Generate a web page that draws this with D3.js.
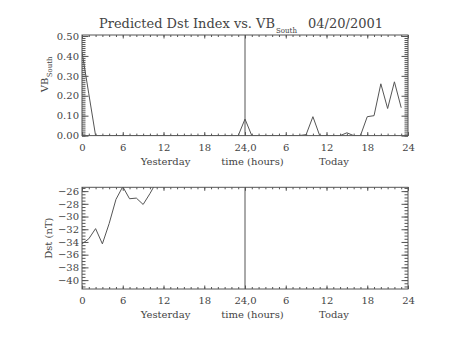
<!DOCTYPE html>
<html>
<head>
<meta charset="utf-8">
<script src="https://cdn.jsdelivr.net/npm/d3@7"></script>
<style>
  html, body { margin: 0; padding: 0; background: #fff; }
  svg { display: block; }
  text { font-family: "DejaVu Serif", "Liberation Serif", serif; fill: #444; }
</style>
</head>
<body>
<svg id="chart" width="454" height="341"></svg>
<script>
// ---- data ----
const vbSouth = [
  0.42, 0.21, 0, 0, 0, 0, 0, 0, 0, 0, 0, 0,
  0, 0, 0, 0, 0, 0, 0, 0, 0, 0, 0, 0,
  0.083, 0, 0, 0, 0, 0, 0, 0, 0, 0.005, 0.095, 0,
  0, 0, 0, 0.014, 0, 0, 0.095, 0.10, 0.26, 0.136, 0.27, 0.14
];
const dstHours = [0, 1, 2, 3, 4, 5, 6, 7, 8, 9, 10, 11];
const dstValues = [-34.3, -33.5, -31.9, -34.3, -31.1, -27.3, -25.3, -27.2, -27.1, -28.1, -26.4, -24.5];
const xTickValues = [0, 6, 12, 18, 24, 30, 36, 42, 48];
const xTickLabels = ["0", "6", "12", "18", "24,0", "6", "12", "18", "24"];
const vbTickValues = [0, 0.1, 0.2, 0.3, 0.4, 0.5];
const vbTickLabels = ["0.00", "0.10", "0.20", "0.30", "0.40", "0.50"];
const dstTickValues = [-40, -38, -36, -34, -32, -30, -28, -26];
const dstTickLabels = ["\u221240", "\u221238", "\u221236", "\u221234", "\u221232", "\u221230", "\u221228", "\u221226"];
const dayLabels = ["Yesterday", "time (hours)", "Today"];
const dayLabelHours = [12.3, 25.1, 37.1];
const titleMain = "Predicted Dst Index vs. VB";
const titleSub = "South";
const titleDate = "04/20/2001";

// ---- layout ----
const svg = d3.select("#chart");
const W = 454, H = 341;
svg.append("rect").attr("width", W).attr("height", H).attr("fill", "#fff");
const lineColor = "#555";
const textColor = "#444";
const left = 82, right = 408;
const fs = 10;

const x = d3.scaleLinear().domain([0, 48]).range([left, right]);

function panel(top, bottom, yDomain, majorTicks, majorLabels, minorStep, yTitleFn, clipId) {
  const y = d3.scaleLinear().domain(yDomain).range([bottom, top]);
  const g = svg.append("g");

  // frame
  g.append("rect").attr("x", left).attr("y", top).attr("width", right - left).attr("height", bottom - top)
    .attr("fill", "none").attr("stroke", lineColor).attr("stroke-width", 1);

  const minorY = d3.range(Math.ceil(yDomain[0] / minorStep), Math.floor(yDomain[1] / minorStep) + 1).map(k => +(k * minorStep).toFixed(4));
  const minorX = d3.range(0, 49);

  function axisGroup(gen, tx, ty) {
    const a = g.append("g").attr("transform", `translate(${tx},${ty})`).call(gen);
    a.select(".domain").remove();
    a.selectAll("line").attr("stroke", lineColor);
    return a;
  }
  // x ticks bottom & top
  axisGroup(d3.axisBottom(x).tickValues(minorX).tickSize(-2).tickFormat(""), 0, bottom);
  axisGroup(d3.axisTop(x).tickValues(minorX).tickSize(-2).tickFormat(""), 0, top);
  const xb = axisGroup(d3.axisBottom(x).tickValues(xTickValues).tickSize(-3.5).tickPadding(8)
    .tickFormat((d, i) => xTickLabels[i]), 0, bottom);
  xb.selectAll("text").attr("font-size", fs).attr("fill", textColor).attr("font-family", "DejaVu Serif");
  axisGroup(d3.axisTop(x).tickValues(xTickValues).tickSize(-3.5).tickFormat(""), 0, top);

  // y ticks left & right
  axisGroup(d3.axisLeft(y).tickValues(minorY).tickSize(-3.5).tickFormat(""), left, 0);
  axisGroup(d3.axisRight(y).tickValues(minorY).tickSize(-3.5).tickFormat(""), right, 0);
  const yl = axisGroup(d3.axisLeft(y).tickValues(majorTicks).tickSize(-6.5).tickPadding(3)
    .tickFormat((d, i) => majorLabels[i]), left, 0);
  yl.selectAll("text").attr("font-size", fs).attr("fill", textColor).attr("font-family", "DejaVu Serif");
  axisGroup(d3.axisRight(y).tickValues(majorTicks).tickSize(-6.5).tickFormat(""), right, 0);

  // vertical separator at 24
  g.append("line").attr("x1", x(24)).attr("x2", x(24)).attr("y1", top).attr("y2", bottom)
    .attr("stroke", lineColor).attr("stroke-width", 1);

  // day labels
  g.selectAll("text.day").data(dayLabels).enter().append("text")
    .attr("class", "day")
    .attr("x", (d, i) => x(dayLabelHours[i])).attr("y", bottom + 29)
    .attr("text-anchor", "middle").attr("font-size", fs).text(d => d);

  // clip
  svg.append("clipPath").attr("id", clipId).append("rect")
    .attr("x", left).attr("y", top).attr("width", right - left).attr("height", bottom - top);

  yTitleFn(g, (top + bottom) / 2);
  return { y, g };
}

// title
svg.append("text").attr("x", 99).attr("y", 28).attr("font-size", 13)
  .attr("textLength", 176).attr("lengthAdjust", "spacingAndGlyphs").text(titleMain);
svg.append("text").attr("x", 276).attr("y", 33).attr("font-size", 8)
  .attr("textLength", 21).attr("lengthAdjust", "spacingAndGlyphs").text(titleSub);
svg.append("text").attr("x", 308).attr("y", 28).attr("font-size", 13)
  .attr("textLength", 75).attr("lengthAdjust", "spacingAndGlyphs").text(titleDate);

// top panel
const top1 = panel(35, 135.6, [0, 0.505], vbTickValues, vbTickLabels, 0.01, (g, cy) => {
  const t = g.append("text").attr("transform", `translate(48,${cy + 7}) rotate(-90)`).attr("font-size", fs);
  t.append("tspan").text("VB");
  t.append("tspan").attr("font-size", 7).attr("dy", 4).attr("dx", 0.5).text("South");
}, "clip1");

top1.g.append("path")
  .datum(vbSouth)
  .attr("clip-path", "url(#clip1)")
  .attr("fill", "none").attr("stroke", lineColor).attr("stroke-width", 1)
  .attr("d", d3.line().x((d, i) => x(i)).y(d => top1.y(d)));

// bottom panel
const bot = panel(187.3, 289, [-41.4, -25.4], dstTickValues, dstTickLabels, 0.5, (g, cy) => {
  g.append("text").attr("transform", `translate(52,${cy}) rotate(-90)`).attr("text-anchor", "middle")
    .attr("font-size", fs).text("Dst (nT)");
}, "clip2");

bot.g.append("path")
  .datum(dstValues)
  .attr("clip-path", "url(#clip2)")
  .attr("fill", "none").attr("stroke", lineColor).attr("stroke-width", 1)
  .attr("d", d3.line().x((d, i) => x(dstHours[i])).y(d => bot.y(d)));
</script>
</body>
</html>
